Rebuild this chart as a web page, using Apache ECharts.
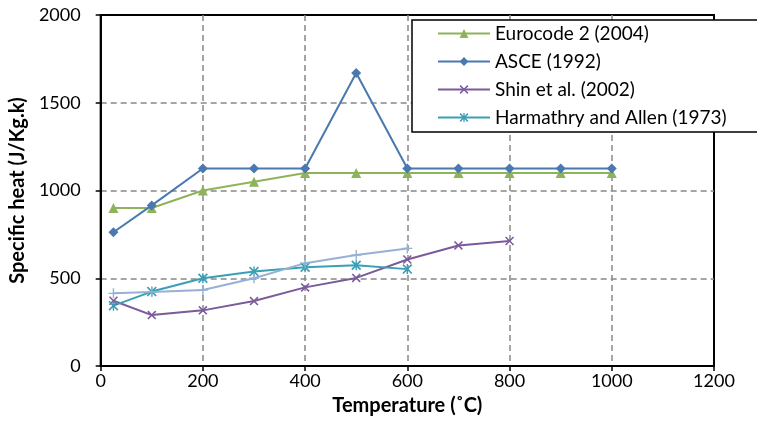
<!DOCTYPE html>
<html>
<head>
<meta charset="utf-8">
<script src="https://cdn.jsdelivr.net/npm/echarts@6/dist/echarts.min.js"></script>
<style>
  html, body { margin: 0; padding: 0; background: #fff; }
  #chart { width: 757px; height: 422px; }
</style>
</head>
<body>
<div id="chart"></div>
<script>
// Temperature points (°C)
const tempFull = [25, 100, 200, 300, 400, 500, 600, 700, 800, 900, 1000];
const tempShin = [25, 100, 200, 300, 400, 500, 600, 700, 800];
const tempShort = [25, 100, 200, 300, 400, 500, 600];

// Specific heat values (J/Kg.k)
const eurocode = [900, 900, 1000, 1050, 1100, 1100, 1100, 1100, 1100, 1100, 1100];
const asce = [762, 915, 1125, 1125, 1125, 1670, 1125, 1125, 1125, 1125, 1125];
const shin = [372, 290, 317, 370, 448, 502, 607, 687, 712];
const harmathry = [344, 424, 500, 538, 563, 574, 552];
const extraCurve = [414, 422, 433, 500, 586, 632, 670];

const seriesNames = ['Eurocode 2 (2004)', 'ASCE (1992)', 'Shin et al. (2002)', 'Harmathry and Allen (1973)'];

const xTicks = [0, 200, 400, 600, 800, 1000, 1200];
const yTicks = [0, 500, 1000, 1500, 2000];

const FONT = 'Lato, "Open Sans", sans-serif';

// marker shapes
const SYM_X = 'path://M0,1.2 L1.2,0 L5,3.8 L8.8,0 L10,1.2 L6.2,5 L10,8.8 L8.8,10 L5,6.2 L1.2,10 L0,8.8 L3.8,5 Z';
const SYM_STAR = 'path://M0,1.2 L1.2,0 L5,3.8 L8.8,0 L10,1.2 L6.2,5 L10,8.8 L8.8,10 L5,6.2 L1.2,10 L0,8.8 L3.8,5 Z M4.3,0 L5.7,0 L5.7,10 L4.3,10 Z';
const SYM_PLUS = 'path://M4.3,0 L5.7,0 L5.7,4.3 L10,4.3 L10,5.7 L5.7,5.7 L5.7,10 L4.3,10 L4.3,5.7 L0,5.7 L0,4.3 L4.3,4.3 Z';

function pairs(xs, ys) { return xs.map((x, i) => [x, ys[i]]); }

function lineSeries(name, xs, ys, color, symbol, size) {
  return {
    name: name,
    type: 'line',
    data: pairs(xs, ys),
    symbol: symbol,
    symbolSize: size,
    showAllSymbol: true,
    lineStyle: { color: color, width: 2 },
    itemStyle: { color: color },
    emphasis: { disabled: true },
    z: 3
  };
}

const gridLine = { show: true, showMinLine: false, showMaxLine: false, lineStyle: { color: '#888', type: [6, 4], width: 1.5 } };

const chart = echarts.init(document.getElementById('chart'), null, { renderer: 'canvas' });

chart.setOption({
  animation: false,
  backgroundColor: '#fff',
  textStyle: { fontFamily: FONT },
  grid: {
    left: 99, right: 43, top: 15, bottom: 56,
    show: true, borderColor: '#000', borderWidth: 2, backgroundColor: 'transparent'
  },
  legend: {
    data: seriesNames,
    orient: 'vertical',
    left: 412, top: 20,
    padding: [4, 32, 5, 25],
    itemGap: 9,
    itemWidth: 52, itemHeight: 11,
    backgroundColor: '#fff',
    borderColor: '#000', borderWidth: 1.5, borderRadius: 0,
    textStyle: { fontFamily: FONT, fontSize: 19, color: '#000' },
    selectedMode: false
  },
  xAxis: {
    type: 'value',
    min: 0, max: 1200, interval: 200,
    name: 'Temperature (˚C)',
    nameLocation: 'middle',
    nameGap: 30,
    nameTextStyle: { fontFamily: FONT, fontSize: 20, fontWeight: 'bold', color: '#000' },
    axisLine: { show: true, lineStyle: { color: '#000', width: 2 } },
    axisTick: { show: true, length: 5, inside: false, lineStyle: { color: '#000', width: 1.5 } },
    axisLabel: {
      margin: 6, fontSize: 18, color: '#000', fontFamily: FONT,
      formatter: v => xTicks.includes(v) ? String(v) : ''
    },
    splitLine: gridLine
  },
  yAxis: {
    type: 'value',
    min: 0, max: 2000, interval: 500,
    name: 'Specific heat (J/Kg.k)',
    nameLocation: 'middle',
    nameGap: 65,
    nameTextStyle: { fontFamily: FONT, fontSize: 20, fontWeight: 'bold', color: '#000' },
    axisLine: { show: true, lineStyle: { color: '#000', width: 2 } },
    axisTick: { show: true, length: 5, inside: false, lineStyle: { color: '#000', width: 1.5 } },
    axisLabel: {
      margin: 20, fontSize: 18, color: '#000', fontFamily: FONT,
      formatter: v => yTicks.includes(v) ? String(v) : ''
    },
    splitLine: gridLine
  },
  series: [
    lineSeries(seriesNames[0], tempFull, eurocode, '#8fb35a', 'triangle', 10),
    lineSeries(seriesNames[1], tempFull, asce, '#4a78b0', 'diamond', 10),
    lineSeries(seriesNames[2], tempShin, shin, '#7a5a9a', SYM_X, 9),
    lineSeries(seriesNames[3], tempShort, harmathry, '#3a9fb5', SYM_STAR, 10),
    lineSeries('', tempShort, extraCurve, '#96b0d6', SYM_PLUS, 10)
  ]
});
</script>
</body>
</html>
